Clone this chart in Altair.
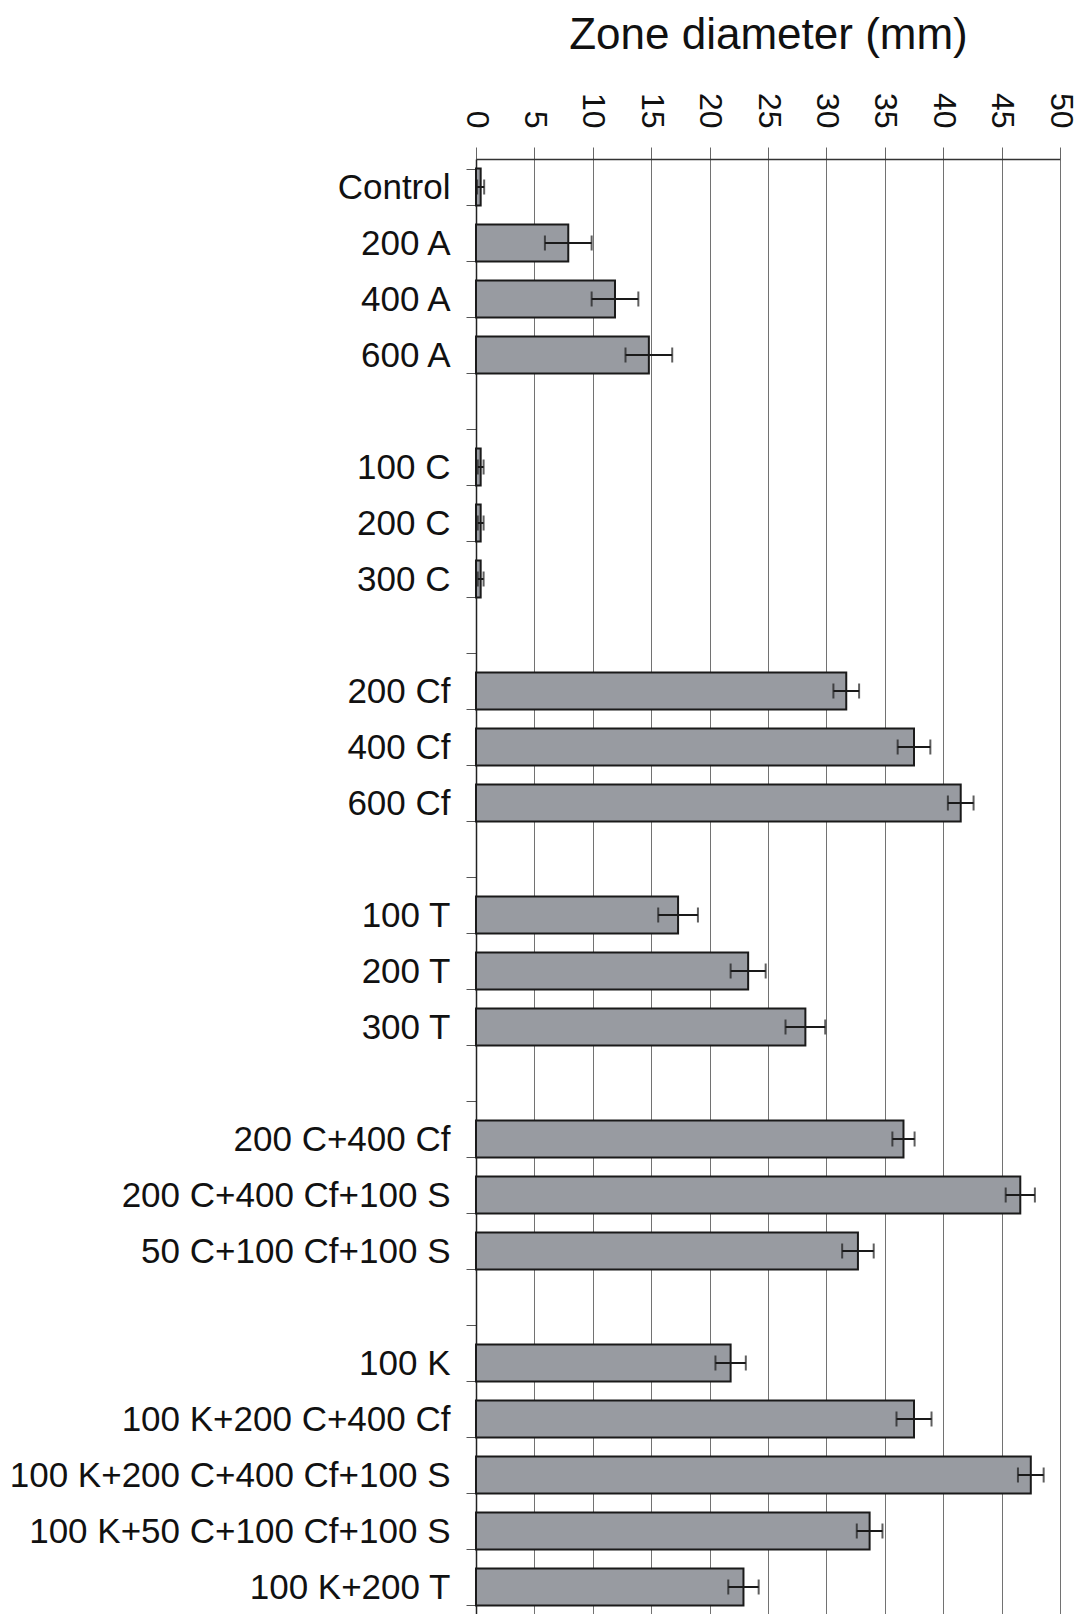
import altair as alt
import pandas as pd

# Row order (gap rows are blank spacers between treatment groups)
categories = [
    "Control", "200 A", "400 A", "600 A", "gap1",
    "100 C", "200 C", "300 C", "gap2",
    "200 Cf", "400 Cf", "600 Cf", "gap3",
    "100 T", "200 T", "300 T", "gap4",
    "200 C+400 Cf", "200 C+400 Cf+100 S", "50 C+100 Cf+100 S", "gap5",
    "100 K", "100 K+200 C+400 Cf", "100 K+200 C+400 Cf+100 S",
    "100 K+50 C+100 Cf+100 S", "100 K+200 T",
]

treatments = [c for c in categories if not c.startswith("gap")]

zone_mm = [0.4, 7.9, 11.9, 14.8,
           0.4, 0.4, 0.4,
           31.7, 37.5, 41.5,
           17.3, 23.3, 28.2,
           36.6, 46.6, 32.7,
           21.8, 37.5, 47.5, 33.7, 22.9]

error_mm = [0.3, 2.0, 2.0, 2.0,
            0.25, 0.25, 0.25,
            1.1, 1.4, 1.1,
            1.7, 1.5, 1.7,
            0.95, 1.25, 1.35,
            1.3, 1.5, 1.1, 1.1, 1.3]

x_ticks = [0, 5, 10, 15, 20, 25, 30, 35, 40, 45, 50]

df = pd.DataFrame({"treatment": treatments, "zone": zone_mm, "err": error_mm})
df["lo"] = df["zone"] - df["err"]
df["hi"] = df["zone"] + df["err"]

FONT = "Liberation Sans"

y_enc = alt.Y(
    "treatment:N",
    scale=alt.Scale(domain=categories, paddingInner=0.34, paddingOuter=0.17),
    axis=alt.Axis(
        title=None,
        labelExpr="indexof(datum.label, 'gap') == 0 ? '' : datum.label",
        tickBand="extent",
        tickSize=10,
        tickColor="#555555",
        labelPadding=16,
        labelFontSize=35,
        labelFont=FONT,
        labelColor="#111111",
        domainColor="#222222",
        domainWidth=1.5,
        grid=False,
        labelLimit=0,
    ),
)

x_scale = alt.Scale(domain=[0, 50], nice=False)

bars = alt.Chart(df).mark_bar(
    color="#989ba1", stroke="#1a1a1a", strokeWidth=2
).encode(
    x=alt.X(
        "zone:Q",
        scale=x_scale,
        axis=alt.Axis(
            orient="top",
            values=x_ticks,
            title="Zone diameter (mm)",
            titleFontSize=44,
            titleFont=FONT,
            titleFontWeight="normal",
            titleColor="#111111",
            titleBaseline="alphabetic",
            titleY=-111,
            labelAngle=90,
            labelAlign="right",
            labelBaseline="middle",
            labelFontSize=32,
            labelFont=FONT,
            labelColor="#111111",
            labelPadding=19,
            tickSize=12,
            tickColor="#666666",
            domainColor="#333333",
            domainWidth=1.5,
            grid=True,
            gridColor="#727272",
            gridWidth=1,
        ),
    ),
    y=y_enc,
)

rule = alt.Chart(df).mark_rule(color="#1a1a1a", strokeWidth=2).encode(
    x=alt.X("lo:Q", scale=x_scale),
    x2="hi:Q",
    y=alt.Y("treatment:N", scale=alt.Scale(domain=categories)),
)

cap_lo = alt.Chart(df).mark_tick(color="#1a1a1a", size=15, thickness=2).encode(
    x=alt.X("lo:Q", scale=x_scale),
    y=alt.Y("treatment:N", scale=alt.Scale(domain=categories)),
)

cap_hi = alt.Chart(df).mark_tick(color="#1a1a1a", size=15, thickness=2).encode(
    x=alt.X("hi:Q", scale=x_scale),
    y=alt.Y("treatment:N", scale=alt.Scale(domain=categories)),
)

chart = alt.layer(bars, rule, cap_lo, cap_hi).properties(
    width=584,
    height=1456,
    autosize=alt.AutoSizeParams(type="none"),
    padding={"left": 468, "top": 151, "right": 20, "bottom": 0},
).configure_view(stroke=None).configure(background="white")

chart.save("out.html", embed_options={"renderer": "svg", "actions": False})
